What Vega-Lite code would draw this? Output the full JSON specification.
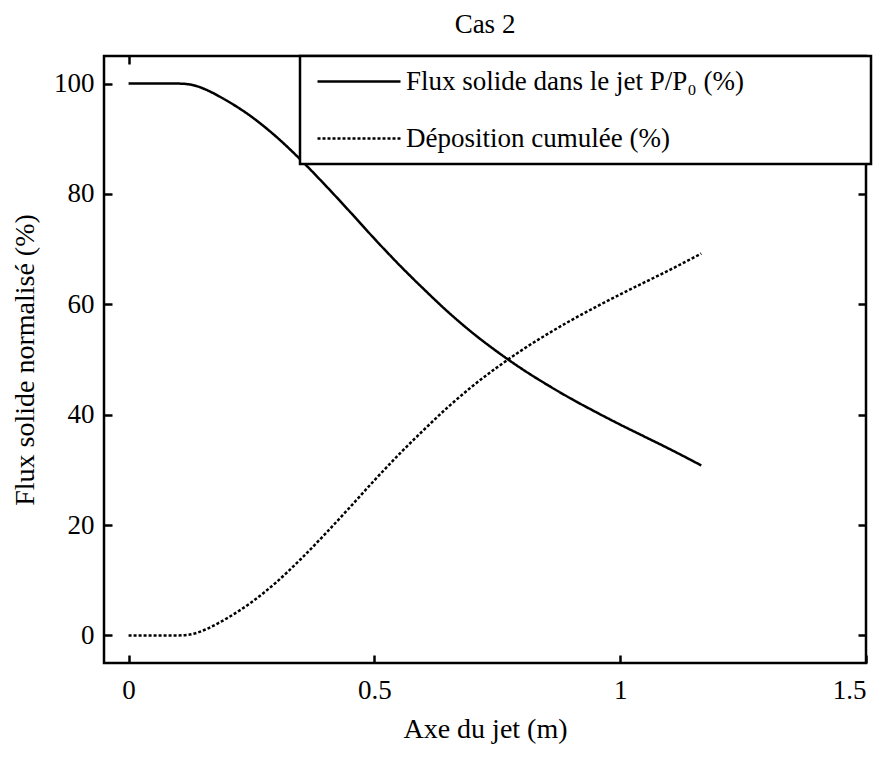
{
  "$schema": "https://vega.github.io/schema/vega-lite/v6.json",
  "autosize": {"type": "none"},
  "padding": {"left": 104, "top": 56, "right": 19, "bottom": 95},
  "width": 762,
  "height": 607,
  "background": "white",
  "title": {"text": "Cas 2", "fontSize": 27, "fontWeight": "normal", "font": "Liberation Serif", "color": "black", "offset": 16},
  "config": {
    "font": "Liberation Serif",
    "view": {"stroke": "black", "strokeWidth": 2.5},
    "axis": {"domain": false, "grid": false, "tickColor": "black", "tickWidth": 2.5, "tickSize": -8, "labelFont": "Liberation Serif", "titleFont": "Liberation Serif", "labelFontSize": 27, "labelColor": "black", "titleFontSize": 28, "titleFontWeight": "normal", "titleColor": "black"},
    "legend": {"orient": "none", "legendX": 196, "legendY": 0, "strokeColor": "black", "strokeWidth": 2.5, "fillColor": "white", "padding": 12, "labelFont": "Liberation Serif", "labelFontSize": 27, "labelColor": "black", "labelLimit": 800, "symbolType": "M-0.8,0H7.5", "symbolSize": 400, "symbolStrokeColor": "black", "symbolStrokeWidth": 2.5, "rowPadding": 29, "labelOffset": 67, "title": null}
  },
  "data": {"values": [
    {"x": 0, "v": 100, "s": "P"}, {"x": 0.05, "v": 100, "s": "P"}, {"x": 0.1, "v": 100, "s": "P"}, {"x": 0.12, "v": 99.9, "s": "P"}, {"x": 0.14, "v": 99.5, "s": "P"}, {"x": 0.16, "v": 98.8, "s": "P"}, {"x": 0.18, "v": 97.9, "s": "P"}, {"x": 0.2, "v": 96.9, "s": "P"}, {"x": 0.25, "v": 94.0, "s": "P"}, {"x": 0.3, "v": 90.4, "s": "P"}, {"x": 0.35, "v": 86.2, "s": "P"}, {"x": 0.4, "v": 81.6, "s": "P"}, {"x": 0.45, "v": 76.8, "s": "P"}, {"x": 0.5, "v": 71.9, "s": "P"}, {"x": 0.55, "v": 67.2, "s": "P"}, {"x": 0.6, "v": 62.8, "s": "P"}, {"x": 0.65, "v": 58.6, "s": "P"}, {"x": 0.7, "v": 54.8, "s": "P"}, {"x": 0.75, "v": 51.4, "s": "P"}, {"x": 0.8, "v": 48.3, "s": "P"}, {"x": 0.85, "v": 45.5, "s": "P"}, {"x": 0.9, "v": 42.9, "s": "P"}, {"x": 0.95, "v": 40.5, "s": "P"}, {"x": 1.0, "v": 38.2, "s": "P"}, {"x": 1.05, "v": 36.0, "s": "P"}, {"x": 1.1, "v": 33.8, "s": "P"}, {"x": 1.15, "v": 31.5, "s": "P"}, {"x": 1.165, "v": 30.8, "s": "P"},
    {"x": 0, "v": 0, "s": "D"}, {"x": 0.05, "v": 0, "s": "D"}, {"x": 0.1, "v": 0, "s": "D"}, {"x": 0.12, "v": 0.1, "s": "D"}, {"x": 0.14, "v": 0.5, "s": "D"}, {"x": 0.16, "v": 1.2, "s": "D"}, {"x": 0.18, "v": 2.1, "s": "D"}, {"x": 0.2, "v": 3.1, "s": "D"}, {"x": 0.25, "v": 6.0, "s": "D"}, {"x": 0.3, "v": 9.6, "s": "D"}, {"x": 0.35, "v": 13.8, "s": "D"}, {"x": 0.4, "v": 18.4, "s": "D"}, {"x": 0.45, "v": 23.2, "s": "D"}, {"x": 0.5, "v": 28.1, "s": "D"}, {"x": 0.55, "v": 32.8, "s": "D"}, {"x": 0.6, "v": 37.2, "s": "D"}, {"x": 0.65, "v": 41.4, "s": "D"}, {"x": 0.7, "v": 45.2, "s": "D"}, {"x": 0.75, "v": 48.6, "s": "D"}, {"x": 0.8, "v": 51.7, "s": "D"}, {"x": 0.85, "v": 54.5, "s": "D"}, {"x": 0.9, "v": 57.1, "s": "D"}, {"x": 0.95, "v": 59.5, "s": "D"}, {"x": 1.0, "v": 61.8, "s": "D"}, {"x": 1.05, "v": 64.0, "s": "D"}, {"x": 1.1, "v": 66.2, "s": "D"}, {"x": 1.15, "v": 68.5, "s": "D"}, {"x": 1.165, "v": 69.2, "s": "D"}
  ]},
  "layer": [
    {
      "mark": {"type": "line", "color": "black", "strokeWidth": 2.5, "interpolate": "monotone"},
      "encoding": {
        "x": {"field": "x", "type": "quantitative", "scale": {"domain": [-0.05, 1.5], "nice": false, "zero": false}, "axis": {"orient": "bottom", "values": [0, 0.5, 1, 1.5], "format": "~g", "labelPadding": 22, "title": "Axe du jet (m)", "titlePadding": 12}},
        "y": {"field": "v", "type": "quantitative", "scale": {"domain": [-5, 105], "nice": false, "zero": false}, "axis": {"orient": "left", "values": [0, 20, 40, 60, 80, 100], "labelPadding": 18, "title": "Flux solide normalisé (%)", "titlePadding": 14}},
        "strokeDash": {"field": "s", "type": "nominal", "scale": {"domain": ["P", "D"], "range": [[1, 0], [3, 2]]}, "legend": {"labelExpr": "datum.value == 'P' ? 'Flux solide dans le jet  P/P₀  (%)\u00a0\u00a0\u00a0\u00a0\u00a0\u00a0\u00a0\u00a0\u00a0\u00a0\u00a0\u00a0\u00a0\u00a0\u00a0\u200b' : 'Déposition cumulée (%)'"}}
      }
    },
    {
      "mark": {"type": "line", "opacity": 0},
      "encoding": {
        "x": {"field": "x", "type": "quantitative", "axis": {"orient": "top", "values": [0, 0.5, 1, 1.5], "labels": false, "title": null}},
        "y": {"field": "v", "type": "quantitative", "axis": {"orient": "right", "values": [0, 20, 40, 60, 80, 100], "labels": false, "title": null}},
        "detail": {"field": "s"}
      }
    }
  ],
  "resolve": {"axis": {"x": "independent", "y": "independent"}}
}
